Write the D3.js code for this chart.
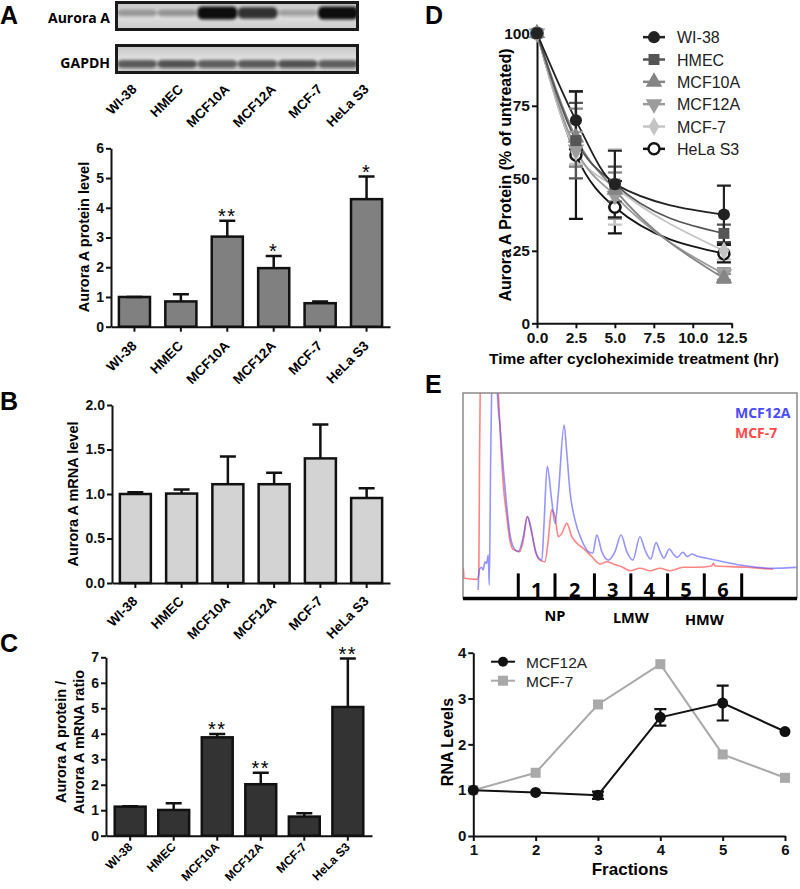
<!DOCTYPE html>
<html>
<head>
<meta charset="utf-8">
<title>Aurora A figure</title>
<script src="https://d3js.org/d3.v7.min.js"></script>
<style>
  body { margin: 0; background: #fff; }
  svg { font-family: "Liberation Sans", Arial, sans-serif; }
  .ax path, .ax line { stroke: #111; stroke-width: 2; }
  .ax text { font-family: "Liberation Sans", Arial, sans-serif; font-weight: bold; fill: #111; }
</style>
</head>
<body>
<div id="fig"></div>
<script>
// ---- data ----
var cells = ["WI-38", "HMEC", "MCF10A", "MCF12A", "MCF-7", "HeLa S3"];

// western blot band density (0..1)
var auroraBand = [0.32, 0.34, 1, 0.82, 0.28, 1];
var gapdhBand = [0.62, 0.66, 0.6, 0.62, 0.66, 0.6];

// A: protein level
var proteinLevel = [1.0, 0.85, 3.03, 1.97, 0.79, 4.29];
var proteinErr = [0, 0.24, 0.53, 0.41, 0.06, 0.76];
var proteinStars = ["", "", "**", "*", "", "*"];
var proteinTicks = [0, 1, 2, 3, 4, 5, 6];

// B: mRNA level
var mrnaLevel = [1.0, 1.005, 1.11, 1.11, 1.40, 0.955];
var mrnaErr = [0.02, 0.045, 0.31, 0.13, 0.38, 0.11];
var mrnaTicks = [0, 0.5, 1.0, 1.5, 2.0];

// C: protein / mRNA ratio
var ratioLevel = [1.14, 1.01, 3.86, 2.02, 0.75, 5.05];
var ratioErr = [0.02, 0.26, 0.13, 0.45, 0.13, 1.9];
var ratioStars = ["", "", "**", "**", "", "**"];
var ratioTicks = [0, 1, 2, 3, 4, 5, 6, 7];

// D: decay after cycloheximide
var times = [0, 2.5, 5, 12];
var wi38Decay = [100, 70, 48, 37.5], wi38Sd = [0, 10, 11.5, 10];
var hmecDecay = [100, 63, 48, 31], hmecSd = [0, 13, 6, 3];
var mcf10aDecay = [100, 64, 46, 15.5], mcf10aSd = [0, 10, 6, 1.5];
var mcf12aDecay = [100, 60, 44, 17], mcf12aSd = [0, 6, 8, 2];
var mcf7Decay = [100, 59, 47, 25], mcf7Sd = [0, 4, 13, 3];
var helaDecay = [100, 58, 40, 24], helaSd = [0, 22, 9, 3];
var decayTicksX = [0, 2.5, 5, 7.5, 10, 12.5];
var decayTicksY = [0, 25, 50, 75, 100];

// E: polysome profile traces [position, absorbance]
var mcf7Trace = [[0, 9.6], [0.1, 14.5], [0.3, 9.6], [4.2, 9.1], [4.7, 12], [4.9, 67], [5.1, 100], [5.4, 130],
  [9.8, 130], [10.5, 100], [11.2, 75.5], [12, 54.3], [13, 39.7], [13.9, 28.3], [14.9, 23.7], [16.9, 22.6],
  [17.9, 28.3], [19.1, 39.7], [20.1, 34.8], [21.4, 23.4], [22.8, 18.5], [24.3, 17.7], [25.3, 28.3],
  [26.3, 43], [27.3, 39.7], [28.3, 29.9], [29.3, 31.5], [30.8, 36.4], [32.3, 29.9], [33.8, 26.7],
  [35.7, 24.2], [38.2, 20.2], [40.7, 16.6], [42.6, 17.7], [44.6, 16.6], [47.1, 15.3], [49.6, 13.3],
  [52.5, 14.5], [55.5, 13.3], [58.5, 14.5], [61.4, 13.3], [65.4, 15], [69.3, 15], [73.8, 15.6],
  [74.3, 16.9], [74.8, 15.6], [79.2, 15.3], [84.2, 15], [88.1, 14.5], [92.1, 14]];
var mcf12aTrace = [[4.5, 3.9], [4.8, 13.7], [5.5, 15], [6.0, 13.7], [6.5, 17.7], [7.0, 16.9], [7.5, 21],
  [7.8, 6.3], [8.2, 67], [8.5, 100], [8.8, 130], [9.8, 130], [10.2, 100], [11, 83.6], [12, 62.4],
  [13, 44.5], [13.9, 31.5], [14.9, 25], [16.4, 22.6], [17.9, 29.9], [19.1, 39.7], [20.4, 31.5],
  [21.9, 21], [23.4, 18.5], [24, 34.8], [25, 64.2], [26.3, 48], [27.3, 36.4], [28.3, 51.2], [30, 84.4],
  [30.8, 70.6], [31.8, 51.2], [33.2, 38.2], [35.2, 28.3], [37.2, 22.6], [38.5, 21.8], [39.7, 30.7],
  [41.2, 22.6], [43.1, 18.5], [45.1, 22.6], [46.9, 30.7], [48.6, 22.6], [50.4, 18.5], [52.5, 29.9],
  [54, 23.4], [55.7, 19], [57.3, 27], [58.5, 22.6], [59.6, 19.4], [61.2, 23.9], [62.6, 21], [63.6, 19.8],
  [65.2, 22.3], [66.6, 20.2], [67.9, 21.5], [69.3, 20.5], [72.3, 19.4], [77.2, 17.7], [82.2, 16.1],
  [87.1, 15], [92.1, 14.5], [100, 15]];
var fractionEdges = [16.4, 27.3, 39.0, 49.8, 60.7, 71.6, 82.7];
var fractionNames = ["1", "2", "3", "4", "5", "6"];
var regionNames = ["NP", "LMW", "HMW"];

// E: RNA levels per fraction
var fractions = [1, 2, 3, 4, 5, 6];
var mcf12aRna = [1.0, 0.95, 0.89, 2.59, 2.90, 2.28];
var mcf12aRnaErr = [0, 0, 0.08, 0.18, 0.38, 0];
var mcf7Rna = [1.0, 1.38, 2.87, 3.75, 1.78, 1.27];

// ---- drawing ----
var svg = d3.select("#fig").append("svg").attr("width", 800).attr("height", 889);
svg.append("rect").attr("width", 800).attr("height", 889).attr("fill", "#fff");
var defs = svg.append("defs");

function letter(t, x, y) {
  svg.append("text").attr("x", x).attr("y", y).text(t)
    .attr("font-weight", "bold").attr("font-size", 25);
}
letter("A", 0, 24);
letter("B", 0, 410);
letter("C", 0, 652);
letter("D", 425, 24);
letter("E", 425, 393);

// ---- blot ----
defs.append("filter").attr("id", "blur").attr("x", "-20%").attr("y", "-50%").attr("width", "140%").attr("height", "200%")
  .append("feGaussianBlur").attr("stdDeviation", 1.6);
var grad = defs.append("linearGradient").attr("id", "membrane").attr("x1", 0).attr("x2", 0).attr("y1", 0).attr("y2", 1);
grad.append("stop").attr("offset", "0%").attr("stop-color", "#c6c6c6");
grad.append("stop").attr("offset", "50%").attr("stop-color", "#e0e0e0");
grad.append("stop").attr("offset", "100%").attr("stop-color", "#cbcbcb");

var lane = d3.scalePoint().domain(cells).range([136, 337]);
var bandThick = d3.scaleLinear().domain([0, 1]).range([4, 13]);

function blot(top, id, vals, bandY, label, labelY, thick) {
  defs.append("clipPath").attr("id", id).append("rect")
    .attr("x", 116).attr("y", top + 1).attr("width", 242).attr("height", 28);
  svg.append("rect").attr("x", 116.5).attr("y", top + 1.5).attr("width", 241).attr("height", 27)
    .attr("fill", "url(#membrane)");
  svg.append("g").attr("clip-path", "url(#" + id + ")")
    .selectAll("rect").data(cells).join("rect")
    .attr("x", function (d) { return lane(d) - 19; })
    .attr("width", 40)
    .attr("y", function (d, i) { return bandY - thick(vals[i]) / 2; })
    .attr("height", function (d, i) { return thick(vals[i]); })
    .attr("rx", 5)
    .attr("fill", "#111")
    .attr("opacity", function (d, i) { return vals[i]; })
    .attr("filter", "url(#blur)");
  svg.append("rect").attr("x", 116.5).attr("y", top + 1.5).attr("width", 241).attr("height", 27)
    .attr("fill", "none").attr("stroke", "#1a1a1a").attr("stroke-width", 3);
  svg.append("text").attr("x", 110).attr("y", labelY).attr("text-anchor", "end").text(label)
    .attr("font-family", "'Open Sans', sans-serif").attr("font-weight", "bold").attr("font-size", 14);
}
blot(1, "clipAur", auroraBand, 13, "Aurora A", 23, bandThick);
blot(44, "clipGap", gapdhBand, 64, "GAPDH", 68, function () { return 8; });

// ---- bar panels ----
function barPanel(o) {
  var x = d3.scaleBand().domain(cells).range([o.left, o.right]).paddingInner(o.pin).paddingOuter(o.pout);
  var y = d3.scaleLinear().domain([0, o.max]).range([o.bottom, o.top]);
  var cx = function (d) { return x(d) + x.bandwidth() / 2; };
  var g = svg.append("g");

  g.selectAll(".bar").data(cells).join("rect")
    .attr("x", function (d) { return x(d); })
    .attr("width", x.bandwidth())
    .attr("y", function (d, i) { return y(o.vals[i]); })
    .attr("height", function (d, i) { return o.bottom - y(o.vals[i]); })
    .attr("fill", o.fill).attr("stroke", "#111").attr("stroke-width", 2.5);

  g.selectAll(".eb").data(cells).join("path")
    .attr("d", function (d, i) {
      var c = cx(d), y0 = y(o.vals[i]), y1 = y(o.vals[i] + o.errs[i]);
      return "M" + c + "," + y0 + "V" + y1 + "M" + (c - 8) + "," + y1 + "H" + (c + 8);
    })
    .attr("stroke", "#111").attr("stroke-width", 2.5).attr("fill", "none");

  if (o.stars) {
    g.selectAll(".star").data(cells).join("text")
      .attr("x", cx)
      .attr("y", function (d, i) { return y(o.vals[i] + o.errs[i]) + 2; })
      .attr("text-anchor", "middle").attr("font-size", 20).attr("letter-spacing", 1.5)
      .text(function (d, i) { return o.stars[i]; });
  }

  g.append("g").attr("class", "ax").attr("transform", "translate(" + o.left + ",0)")
    .call(d3.axisLeft(y).tickValues(o.ticks).tickFormat(o.fmt).tickSize(5).tickSizeOuter(0).tickPadding(2))
    .attr("font-size", 14);
  g.append("g").attr("class", "ax").attr("transform", "translate(0," + o.bottom + ")")
    .call(d3.axisBottom(x).tickSize(5).tickSizeOuter(0).tickFormat(""));

  g.selectAll(".xl").data(cells).join("text")
    .attr("transform", function (d) { return "translate(" + (cx(d) + 3) + "," + (o.bottom + o.lab) + ") rotate(-45)"; })
    .attr("text-anchor", "end").attr("font-weight", "bold").attr("font-size", o.labSize || 13.5)
    .text(function (d) { return d; });

  o.ylabel.forEach(function (t, i) {
    g.append("text").attr("transform", "translate(" + o.labelX[i] + "," + o.labelY + ") rotate(-90)")
      .attr("text-anchor", "middle").attr("dominant-baseline", "central")
      .attr("font-weight", "bold").attr("font-size", 14.5).text(t);
  });
  return x;
}

var xA = barPanel({ left: 111, right: 390, top: 148.3, bottom: 326.7, max: 6, pin: 0.33, pout: 0.17,
  vals: proteinLevel, errs: proteinErr, stars: proteinStars, ticks: proteinTicks, fmt: d3.format("d"),
  fill: "#808080", lab: 20, ylabel: ["Aurora A protein level"], labelX: [84], labelY: 237 });

// lane labels under the blot share the bar chart columns
svg.selectAll(".lanel").data(cells).join("text")
  .attr("transform", function (d) { return "translate(" + (xA(d) + xA.bandwidth() / 2 + 3) + ",90) rotate(-45)"; })
  .attr("text-anchor", "end").attr("font-weight", "bold").attr("font-size", 13.5)
  .text(function (d) { return d; });

barPanel({ left: 112, right: 390, top: 405, bottom: 583, max: 2, pin: 0.33, pout: 0.17,
  vals: mrnaLevel, errs: mrnaErr, ticks: mrnaTicks, fmt: d3.format(".1f"),
  fill: "#d3d3d3", lab: 19, ylabel: ["Aurora A mRNA level"], labelX: [73], labelY: 494 });

barPanel({ left: 106, right: 372, top: 657.3, bottom: 835.7, max: 7, pin: 0.29, pout: 0.2,
  vals: ratioLevel, errs: ratioErr, stars: ratioStars, ticks: ratioTicks, fmt: d3.format("d"),
  fill: "#333333", lab: 12, labSize: 12, ylabel: ["Aurora A protein /", "Aurora A mRNA ratio"], labelX: [61, 79], labelY: 742 });

// ---- D ----
var dx = d3.scaleLinear().domain([0, 12.5]).range([537, 731.7]);
var dy = d3.scaleLinear().domain([0, 100]).range([323.3, 33.3]);
var down = { draw: function (ctx, size) { d3.symbolTriangle.draw(ctx, size); } };
var dSeries = [
  { name: "WI-38", v: wi38Decay, sd: wi38Sd, color: "#222", sym: d3.symbolCircle, size: 115, rot: 0, fill: "#222" },
  { name: "HMEC", v: hmecDecay, sd: hmecSd, color: "#555", sym: d3.symbolSquare, size: 120, rot: 0, fill: "#555" },
  { name: "MCF10A", v: mcf10aDecay, sd: mcf10aSd, color: "#858585", sym: d3.symbolTriangle, size: 120, rot: 0, fill: "#858585" },
  { name: "MCF12A", v: mcf12aDecay, sd: mcf12aSd, color: "#9c9c9c", sym: down, size: 120, rot: 180, fill: "#9c9c9c" },
  { name: "MCF-7", v: mcf7Decay, sd: mcf7Sd, color: "#c4c4c4", sym: d3.symbolDiamond, size: 100, rot: 0, fill: "#c4c4c4" },
  { name: "HeLa S3", v: helaDecay, sd: helaSd, color: "#151515", sym: d3.symbolCircle, size: 95, rot: 0, fill: "#fff" }
];

var gD = svg.append("g");
gD.append("g").attr("class", "ax").attr("transform", "translate(0,323.3)")
  .call(d3.axisBottom(dx).tickValues(decayTicksX).tickFormat(d3.format(".1f")).tickSize(5).tickSizeOuter(0).tickPadding(4))
  .attr("font-size", 15.5);
gD.append("g").attr("class", "ax").attr("transform", "translate(537,0)")
  .call(d3.axisLeft(dy).tickValues(decayTicksY).tickFormat(d3.format("d")).tickSize(5).tickSizeOuter(0).tickPadding(2))
  .attr("font-size", 15.5);

var dLine = d3.line().x(function (d, i) { return dx(times[i]); }).y(function (d) { return dy(d); }).curve(d3.curveMonotoneX);
dSeries.slice().reverse().forEach(function (s) {
  gD.append("path").attr("d", dLine(s.v)).attr("fill", "none").attr("stroke", s.color).attr("stroke-width", 1.8);
});
dSeries.slice().reverse().forEach(function (s) {
  gD.append("g").selectAll("path").data(s.v).join("path")
    .attr("d", function (d, i) {
      if (!s.sd[i]) return "";
      var c = dx(times[i]), a = dy(d - s.sd[i]), b = dy(d + s.sd[i]);
      return "M" + c + "," + a + "V" + b + "M" + (c - 7) + "," + a + "H" + (c + 7) + "M" + (c - 7) + "," + b + "H" + (c + 7);
    })
    .attr("stroke", s.color).attr("stroke-width", 2.2).attr("fill", "none");
});
function marker(g, s, x, y) {
  g.append("path").attr("d", d3.symbol().type(s.sym).size(s.size)())
    .attr("transform", "translate(" + x + "," + y + ") rotate(" + s.rot + ")")
    .attr("fill", s.fill).attr("stroke", s.name === "HeLa S3" ? s.color : "none").attr("stroke-width", 2.5);
}
dSeries.slice().reverse().forEach(function (s) {
  s.v.forEach(function (d, i) { marker(gD, s, dx(times[i]), dy(d)); });
});

gD.append("text").attr("x", 634).attr("y", 364).attr("text-anchor", "middle")
  .attr("font-weight", "bold").attr("font-size", 15.5).text("Time after cycloheximide treatment (hr)");
gD.append("text").attr("transform", "translate(505,175) rotate(-90)").attr("text-anchor", "middle")
  .attr("dominant-baseline", "central").attr("font-weight", "bold").attr("font-size", 16)
  .text("Aurora A Protein (% of untreated)");

var legD = d3.scaleBand().domain(dSeries.map(function (s) { return s.name; })).range([26, 160]);
dSeries.forEach(function (s) {
  var yy = legD(s.name) + legD.bandwidth() / 2;
  gD.append("line").attr("x1", 643).attr("x2", 665).attr("y1", yy).attr("y2", yy)
    .attr("stroke", s.color).attr("stroke-width", 2.5);
  marker(gD, s, 654, yy);
  gD.append("text").attr("x", 677).attr("y", yy + 6).attr("font-size", 16).attr("fill", "#222").text(s.name);
});

// ---- E trace ----
var ex = d3.scaleLinear().domain([0, 100]).range([463, 800]);
var ey = d3.scaleLinear().domain([0, 100]).range([598, 393]);
defs.append("clipPath").attr("id", "clipTrace").append("rect").attr("x", 463).attr("y", 393).attr("width", 334).attr("height", 205);
var gE = svg.append("g");
var tLine = d3.line().x(function (d) { return ex(d[0]); }).y(function (d) { return ey(d[1]); }).curve(d3.curveMonotoneX);
var gT = gE.append("g").attr("clip-path", "url(#clipTrace)");
gT.append("path").attr("d", tLine(mcf7Trace)).attr("fill", "none").attr("stroke", "#ff5050").attr("stroke-opacity", 0.7).attr("stroke-width", 1.6);
gT.append("path").attr("d", tLine(mcf12aTrace)).attr("fill", "none").attr("stroke", "#4f4fff").attr("stroke-opacity", 0.6).attr("stroke-width", 1.6);
gE.append("rect").attr("x", 463).attr("y", 393).attr("width", 334).attr("height", 205)
  .attr("fill", "none").attr("stroke", "#8a8a8a").attr("stroke-width", 1.5);
gE.append("line").attr("x1", 463).attr("x2", 797).attr("y1", 598.5).attr("y2", 598.5).attr("stroke", "#000").attr("stroke-width", 3.5);
gE.selectAll(".fe").data(fractionEdges).join("rect")
  .attr("x", function (d) { return ex(d) - 1.5; }).attr("width", 3)
  .attr("y", ey(12)).attr("height", ey(0) - ey(12)).attr("fill", "#000");
gE.selectAll(".fn").data(fractionNames).join("text")
  .attr("x", function (d, i) { return ex((fractionEdges[i] + fractionEdges[i + 1]) / 2); })
  .attr("y", 597).attr("text-anchor", "middle")
  .attr("font-family", "'Open Sans', sans-serif").attr("font-weight", "bold").attr("font-size", 20).text(function (d) { return d; });
gE.selectAll(".rn").data(regionNames).join("text")
  .attr("x", function (d, i) { return ex(fractionEdges[i * 2 + 1]); })
  .attr("y", function (d, i) { return 621 + i * 2; }).attr("text-anchor", "middle")
  .attr("font-family", "'Open Sans', sans-serif").attr("font-weight", "bold").attr("font-size", 14.5).text(function (d) { return d; });
gE.append("text").attr("x", 735).attr("y", 418).attr("fill", "#4a4aff")
  .attr("font-family", "'Open Sans', sans-serif").attr("font-weight", "bold").attr("font-size", 14).text("MCF12A");
gE.append("text").attr("x", 735).attr("y", 438).attr("fill", "#ff4a4a")
  .attr("font-family", "'Open Sans', sans-serif").attr("font-weight", "bold").attr("font-size", 14).text("MCF-7");

// ---- E RNA levels ----
var fx = d3.scaleLinear().domain([1, 6]).range([473.3, 785]);
var fy = d3.scaleLinear().domain([0, 4]).range([836, 652.7]);
var gF = svg.append("g");
gF.append("g").attr("class", "ax").attr("transform", "translate(0,836)")
  .call(d3.axisBottom(fx).tickValues(fractions).tickFormat(d3.format("d")).tickSize(5).tickSizeOuter(0).tickPadding(3))
  .attr("font-size", 15);
gF.append("g").attr("class", "ax").attr("transform", "translate(473.3,0)")
  .call(d3.axisLeft(fy).tickValues([0, 1, 2, 3, 4]).tickFormat(d3.format("d")).tickSize(5).tickSizeOuter(0).tickPadding(2))
  .attr("font-size", 15);
var fLine = d3.line().x(function (d, i) { return fx(fractions[i]); }).y(function (d) { return fy(d); });
gF.append("path").attr("d", fLine(mcf7Rna)).attr("fill", "none").attr("stroke", "#a9a9a9").attr("stroke-width", 2);
gF.append("path").attr("d", fLine(mcf12aRna)).attr("fill", "none").attr("stroke", "#111").attr("stroke-width", 2);
gF.selectAll(".sq").data(mcf7Rna).join("rect")
  .attr("x", function (d, i) { return fx(fractions[i]) - 5; }).attr("y", function (d) { return fy(d) - 5; })
  .attr("width", 10).attr("height", 10).attr("fill", "#a9a9a9");
gF.selectAll(".eb").data(mcf12aRna).join("path")
  .attr("d", function (d, i) {
    if (!mcf12aRnaErr[i]) return "";
    var c = fx(fractions[i]), a = fy(d - mcf12aRnaErr[i]), b = fy(d + mcf12aRnaErr[i]);
    return "M" + c + "," + a + "V" + b + "M" + (c - 6) + "," + a + "H" + (c + 6) + "M" + (c - 6) + "," + b + "H" + (c + 6);
  })
  .attr("stroke", "#111").attr("stroke-width", 2.2).attr("fill", "none");
gF.selectAll(".dot").data(mcf12aRna).join("circle")
  .attr("cx", function (d, i) { return fx(fractions[i]); }).attr("cy", function (d) { return fy(d); })
  .attr("r", 5.5).attr("fill", "#111");
gF.append("text").attr("x", 630).attr("y", 875).attr("text-anchor", "middle")
  .attr("font-weight", "bold").attr("font-size", 17).text("Fractions");
gF.append("text").attr("transform", "translate(447,742) rotate(-90)").attr("text-anchor", "middle")
  .attr("dominant-baseline", "central").attr("font-weight", "bold").attr("font-size", 16).text("RNA Levels");
// legend
gF.append("line").attr("x1", 491).attr("x2", 515).attr("y1", 661.7).attr("y2", 661.7).attr("stroke", "#111").attr("stroke-width", 2);
gF.append("circle").attr("cx", 503).attr("cy", 661.7).attr("r", 5).attr("fill", "#111");
gF.append("text").attr("x", 526).attr("y", 667.5).attr("font-size", 15.5).attr("fill", "#222").text("MCF12A");
gF.append("line").attr("x1", 491).attr("x2", 515).attr("y1", 680.7).attr("y2", 680.7).attr("stroke", "#a9a9a9").attr("stroke-width", 2);
gF.append("rect").attr("x", 498).attr("y", 675.7).attr("width", 10).attr("height", 10).attr("fill", "#a9a9a9");
gF.append("text").attr("x", 526).attr("y", 686.5).attr("font-size", 15.5).attr("fill", "#222").text("MCF-7");
</script>
</body>
</html>
